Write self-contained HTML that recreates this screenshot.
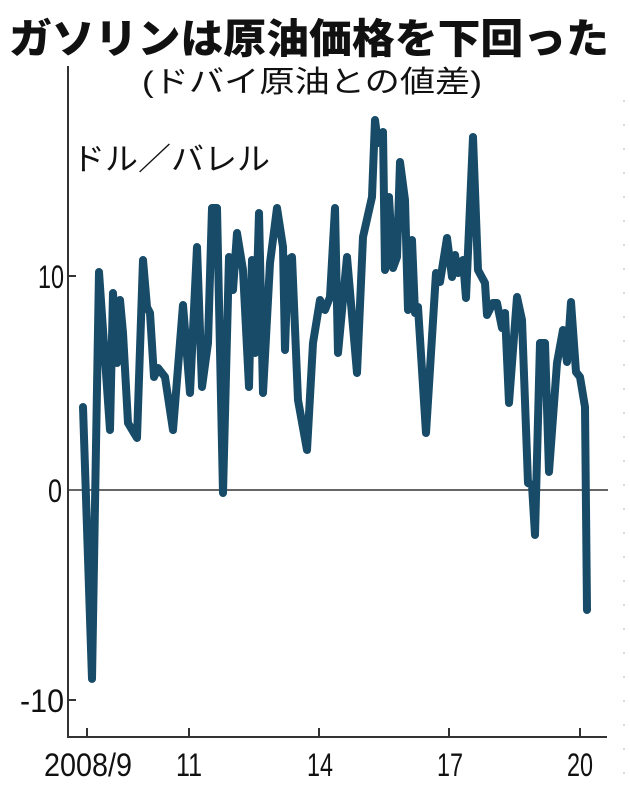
<!DOCTYPE html>
<html><head><meta charset="utf-8"><style>
html,body{margin:0;padding:0;background:#fff;}
svg{display:block;}
</style></head><body>
<svg width="630" height="796" viewBox="0 0 630 796" xmlns="http://www.w3.org/2000/svg">
<rect width="630" height="796" fill="#fff"/>
<text x="309" y="53" text-anchor="middle" font-family="'Liberation Sans','Noto Sans CJK JP',sans-serif" font-weight="900" font-size="41" fill="#111" textLength="600" lengthAdjust="spacingAndGlyphs">ガソリンは原油価格を下回った</text>
<text x="312" y="92" text-anchor="middle" font-family="'Liberation Sans','Noto Sans CJK JP',sans-serif" font-size="30" fill="#111" textLength="340" lengthAdjust="spacingAndGlyphs">(ドバイ原油との値差)</text>
<text x="72" y="170" font-family="'Liberation Sans','Noto Sans CJK JP',sans-serif" font-size="31" fill="#111" textLength="198" lengthAdjust="spacingAndGlyphs">ドル／バレル</text>
<line x1="624" y1="100" x2="624" y2="790" stroke="#ccc" stroke-width="1.5" stroke-dasharray="2,22"/>
<g stroke="#333" stroke-width="2" fill="none">
<line x1="68" y1="66" x2="68" y2="737"/>
<line x1="67" y1="737" x2="607" y2="737"/>
<line x1="68" y1="276" x2="76" y2="276"/>
<line x1="68" y1="700" x2="76" y2="700"/>
<line x1="87" y1="728" x2="87" y2="737"/>
<line x1="189" y1="728" x2="189" y2="737"/>
<line x1="319" y1="728" x2="319" y2="737"/>
<line x1="449" y1="728" x2="449" y2="737"/>
<line x1="580" y1="728" x2="580" y2="737"/>
</g>
<line x1="68" y1="490" x2="608" y2="490" stroke="#333" stroke-width="1.5"/>
<g font-family="'Liberation Sans',sans-serif" font-size="32" fill="#111" text-anchor="end">
<text x="64" y="288" textLength="26" lengthAdjust="spacingAndGlyphs">10</text>
<text x="62" y="502" textLength="14" lengthAdjust="spacingAndGlyphs">0</text>
<text x="64" y="712" textLength="44" lengthAdjust="spacingAndGlyphs">-10</text>
</g>
<g font-family="'Liberation Sans',sans-serif" font-size="32" fill="#111" text-anchor="middle">
<text x="88" y="776" textLength="88" lengthAdjust="spacingAndGlyphs">2008/9</text>
<text x="189" y="776" textLength="26" lengthAdjust="spacingAndGlyphs">11</text>
<text x="320" y="776" textLength="26" lengthAdjust="spacingAndGlyphs">14</text>
<text x="450" y="776" textLength="26" lengthAdjust="spacingAndGlyphs">17</text>
<text x="580" y="776" textLength="26" lengthAdjust="spacingAndGlyphs">20</text>
</g>
<polyline fill="none" stroke="#174b68" stroke-width="8" stroke-linejoin="round" stroke-linecap="round" points="
83,407 92,679 99,272 103,330 110,430 113,293 117,363 120,300 123,333 128,423 137,438 143,260 147,307 150,313 154,377 158,368 165,377 173,430 183,305 190,393 197,247 202,387 208,343 212,208 217,208 223,493 229,257 233,290 237,233 243,270 249,387 252,260 255,353 259,213 263,393 270,263 277,208 283,247 285,350 288,260 292,257 298,400 307,450 313,343 320,300 325,310 330,297 335,208 338,353 347,257 357,373 363,237 372,197 375,120 378,143 383,132 385,270 389,197 393,268 397,257 400,162 405,200 408,310 412,240 415,313 418,307 426,433 436,273 440,282 447,238 452,277 455,255 458,273 463,260 466,298 473,137 478,270 485,283 487,315 493,303 497,303 502,328 505,313 509,403 517,297 522,320 528,483 532,485 535,535 540,343 545,343 549,472 557,363 563,330 567,362 571,302 576,372 580,377 585,407 587,610"/>
</svg>
</body></html>
